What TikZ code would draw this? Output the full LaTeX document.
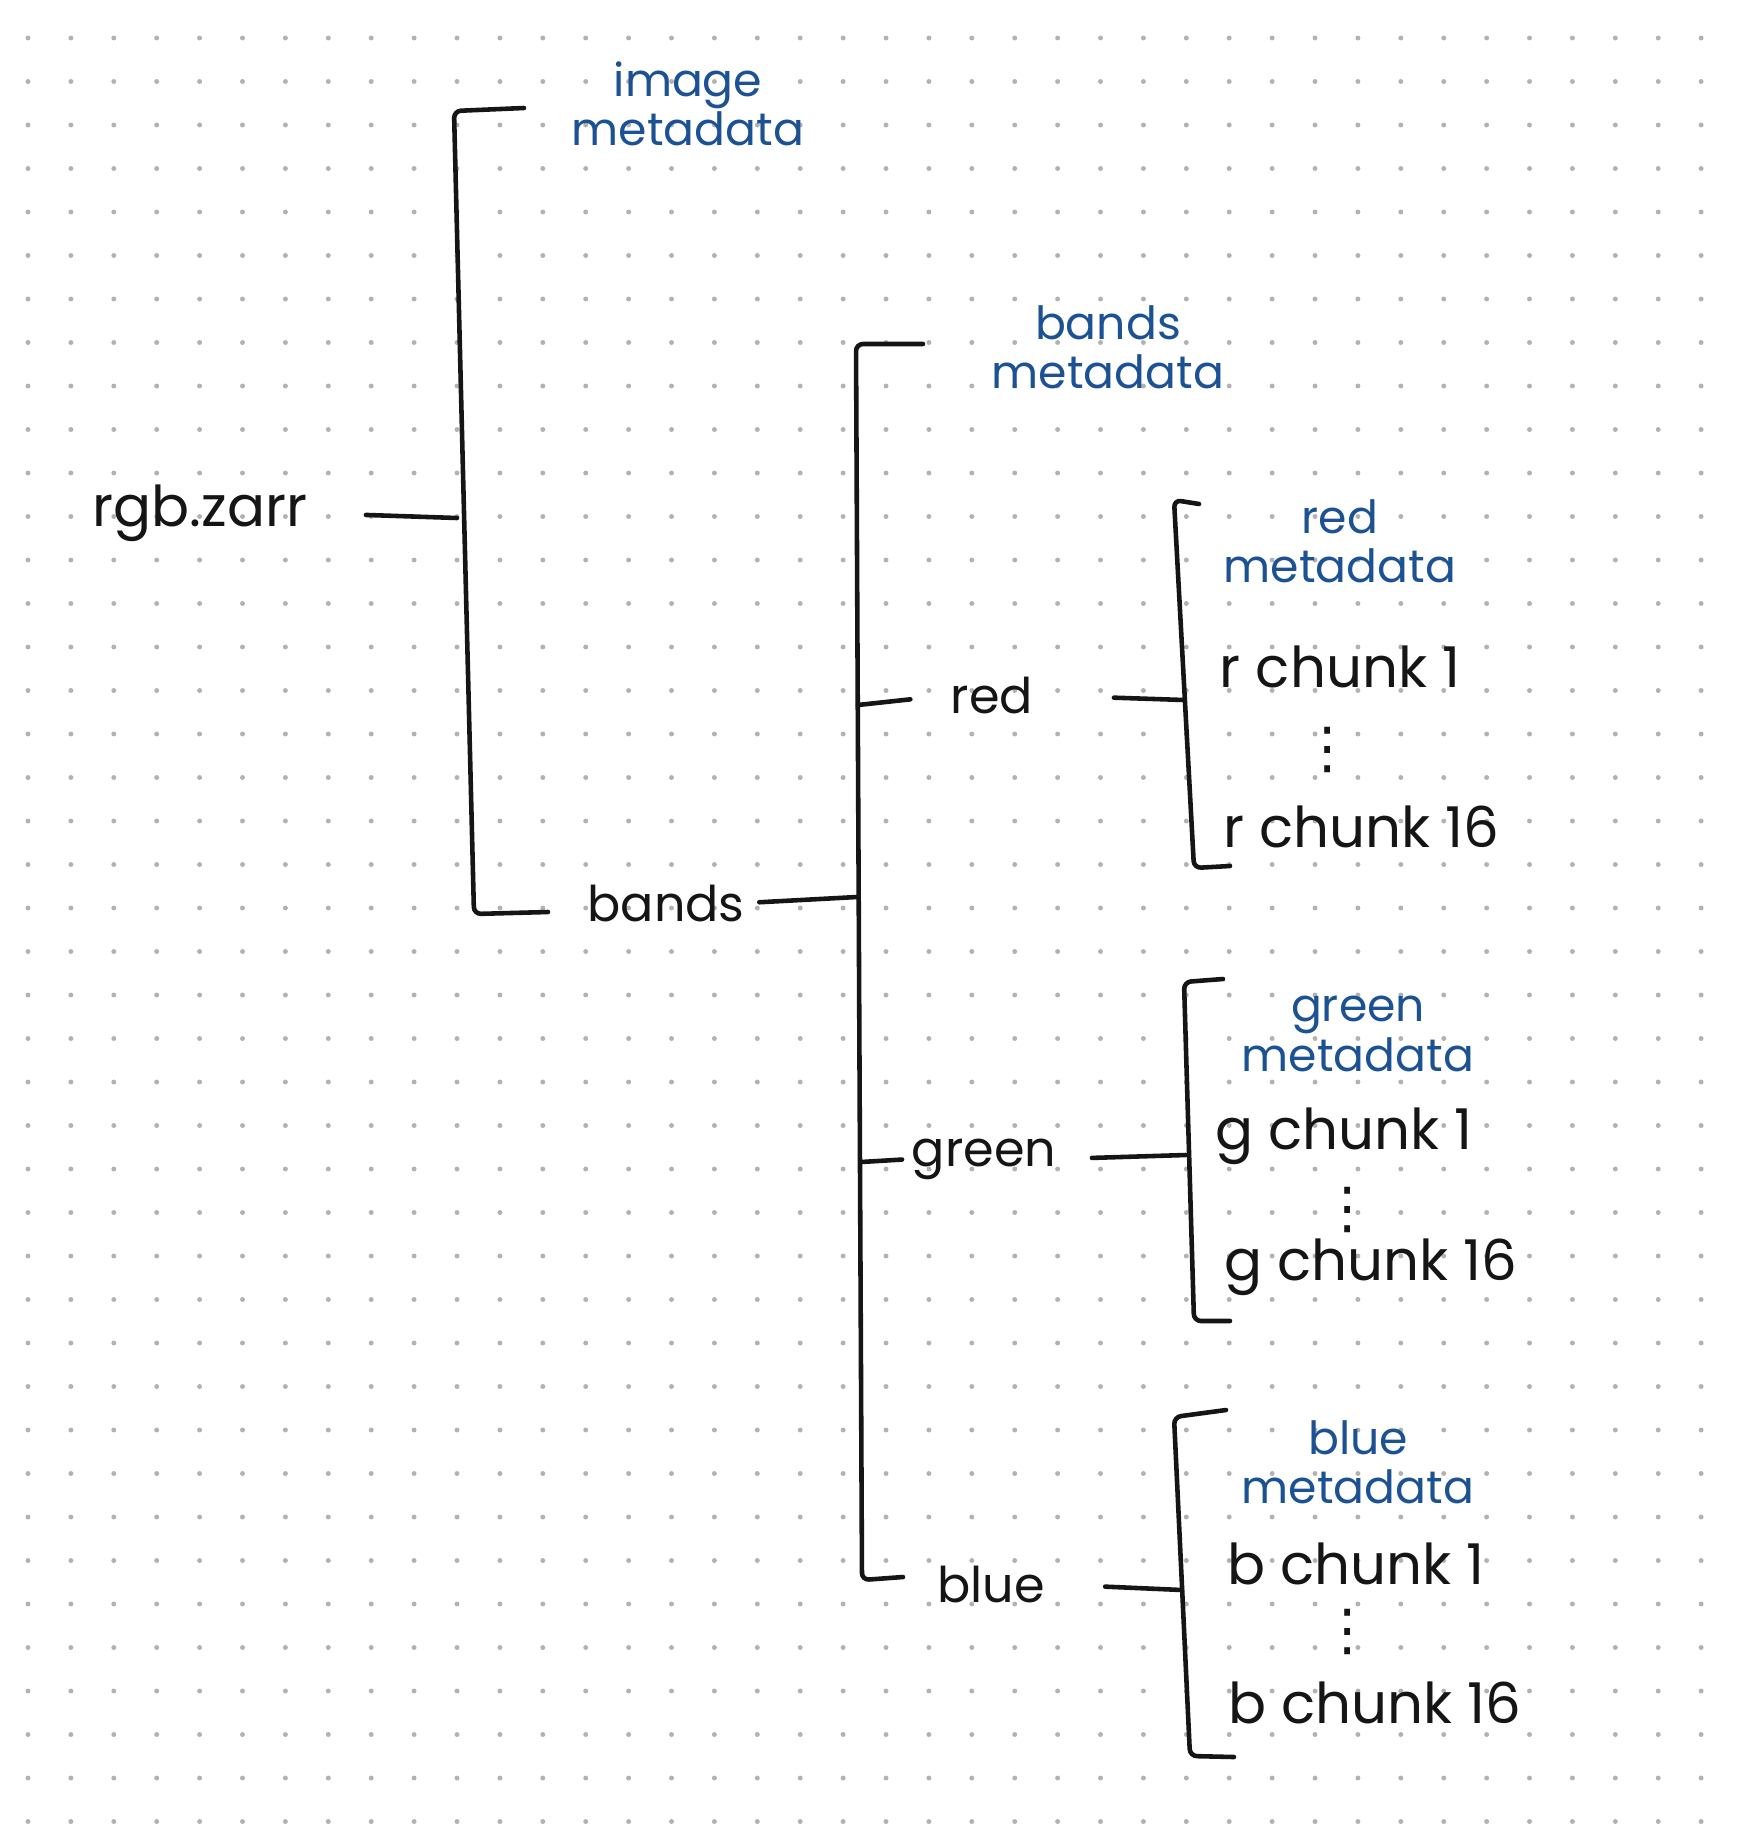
\documentclass[tikz,border=0pt]{standalone}
\usepackage{fontspec}
\setmainfont{Poppins}
\newfontfamily\symfont{DejaVu Sans}
\definecolor{inkblack}{HTML}{151515}
\definecolor{inkblue}{HTML}{1C5294}
\definecolor{dotgray}{HTML}{B2B2B2}

\begin{document}
\begin{tikzpicture}[x=0.01cm,y=-0.01cm]
\tikzset{
  leafnode/.style={inner sep=0pt,text=inkblack,font=\fontsize{16}{19}\selectfont},
  groupnode/.style={inner sep=0pt,text=inkblack,font=\fontsize{14}{17}\selectfont},
  metanode/.style={inner sep=0pt,text=inkblue,align=center,font=\fontsize{13}{14}\selectfont},
  dotsnode/.style={inner sep=0pt,text=inkblack,text height=12pt,text depth=0pt,font=\symfont\fontsize{16}{16}\selectfont},
  bracket/.style={draw=inkblack,line width=1.3pt,rounded corners=2pt,line cap=round},
  stub/.style={draw=inkblack,line width=1.3pt,line cap=round}
}
\useasboundingbox (0,0) rectangle (1752,1827);
\fill[white] (0,0) rectangle (1752,1827);
% dotted paper
\foreach \i in {0,...,39}
  \foreach \j in {0,...,42}
    \fill[dotgray] (28+\i*42.9,-5.5+\j*43.5) circle (0.7pt);

% root and its bracket
\node[leafnode] (n_rgb) at (200,513) {rgb.zarr};
\node[metanode] (n_img_meta) at (688,104) {image\\metadata};
\node[groupnode] (n_bands) at (666,903) {bands};
\coordinate (b_root_top_e) at (524,108);
\coordinate (b_root_top) at (454,111);
\coordinate (b_root_mid) at (457,518);
\coordinate (b_root_bot) at (474,914);
\coordinate (b_root_bot_e) at (548,912);
\draw[bracket] (b_root_top_e) -- (b_root_top) -- (b_root_bot) -- (b_root_bot_e);
\draw[stub,shorten <=16.5pt] (n_rgb.east) -- (b_root_mid);

% bands bracket
\node[metanode] (n_bands_meta) at (1108,347) {bands\\metadata};
\node[groupnode] (n_red) at (992,695) {red};
\node[groupnode] (n_green) at (984,1159) {green};
\node[groupnode] (n_blue) at (991,1584) {blue};
\coordinate (b_bands_top_e) at (923,344);
\coordinate (b_bands_top) at (856,344);
\coordinate (b_bands_mid) at (857,897);
\coordinate (b_bands_bot) at (862,1580);
\coordinate (b_bands_bot_e) at (903,1577);
\coordinate (b_bands_red) at (858,705);
\coordinate (b_bands_green) at (861,1162);
\draw[bracket] (b_bands_top_e) -- (b_bands_top) -- (b_bands_bot) -- (b_bands_bot_e);
\draw[stub,shorten <=4pt] (n_bands.east) -- (b_bands_mid);
\draw[stub,shorten >=11.4pt] (b_bands_red) -- (n_red.west);
\draw[stub,shorten >=2.6pt] (b_bands_green) -- (n_green.west);

% red bracket
\node[metanode] (n_red_meta) at (1340,541) {red\\metadata};
\node[leafnode] (n_r_1) at (1340,667) {r chunk 1};
\node[dotsnode] (n_r_dots) at (1328,746) {⋮};
\node[leafnode] (n_r_16) at (1361,827) {r chunk 16};
\coordinate (b_red_top_e) at (1199,504);
\coordinate (b_red_top) at (1174,500);
\coordinate (b_red_mid) at (1184,700);
\coordinate (b_red_bot) at (1194,868);
\coordinate (b_red_bot_e) at (1230,866);
\draw[bracket] (b_red_top_e) -- (b_red_top) -- (b_red_bot) -- (b_red_bot_e);
\draw[stub,shorten <=22.8pt] (n_red.east) -- (b_red_mid);

% green bracket
\node[metanode] (n_green_meta) at (1358,1034) {green\\metadata};
\node[leafnode] (n_g_1) at (1344,1136) {g chunk 1};
\node[dotsnode] (n_g_dots) at (1348,1206) {⋮};
\node[leafnode] (n_g_16) at (1371,1267) {g chunk 16};
\coordinate (b_green_top_e) at (1223,979);
\coordinate (b_green_top) at (1184,982);
\coordinate (b_green_mid) at (1186,1155);
\coordinate (b_green_bot) at (1194,1321);
\coordinate (b_green_bot_e) at (1230,1321);
\draw[bracket] (b_green_top_e) -- (b_green_top) -- (b_green_bot) -- (b_green_bot_e);
\draw[stub,shorten <=10pt] (n_green.east) -- (b_green_mid);

% blue bracket
\node[metanode] (n_blue_meta) at (1358,1462) {blue\\metadata};
\node[leafnode] (n_b_1) at (1356,1564) {b chunk 1};
\node[dotsnode] (n_b_dots) at (1348,1628) {⋮};
\node[leafnode] (n_b_16) at (1375,1703) {b chunk 16};
\coordinate (b_blue_top_e) at (1226,1410);
\coordinate (b_blue_top) at (1174,1417);
\coordinate (b_blue_mid) at (1182,1590);
\coordinate (b_blue_bot) at (1190,1756);
\coordinate (b_blue_bot_e) at (1234,1757);
\draw[bracket] (b_blue_top_e) -- (b_blue_top) -- (b_blue_bot) -- (b_blue_bot_e);
\draw[stub,shorten <=17pt] (n_blue.east) -- (b_blue_mid);
\end{tikzpicture}
\end{document}
